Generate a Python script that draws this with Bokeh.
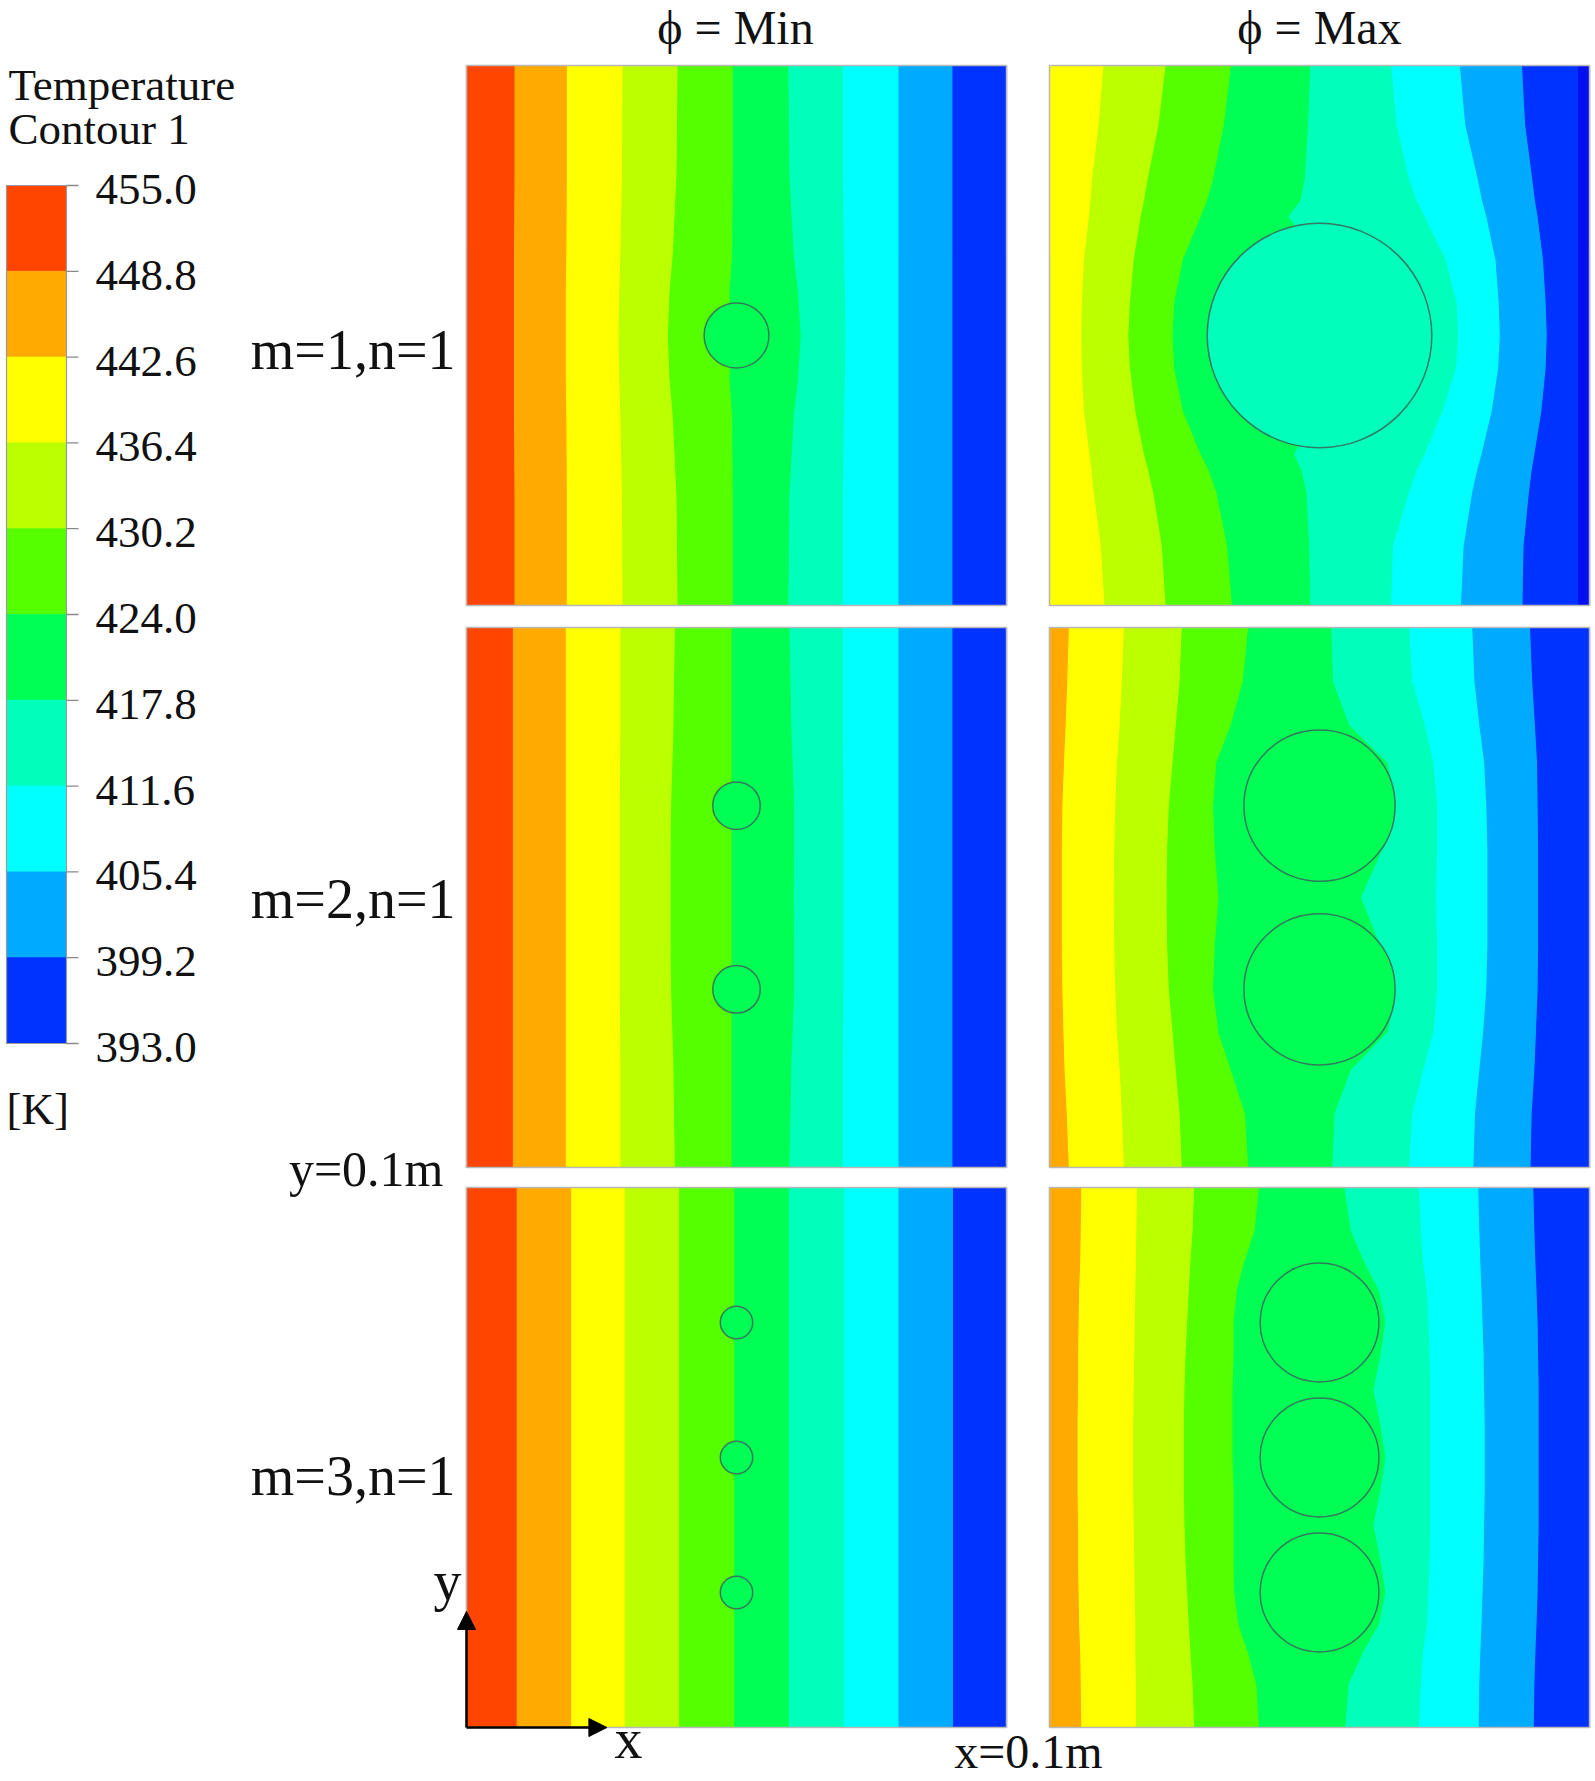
from bokeh.plotting import figure
from bokeh.models import Range1d, Arrow, NormalHead
from bokeh.core.properties import value
from bokeh.embed import file_html
from bokeh.resources import INLINE

# ---------------- data ----------------
LEVELS = [455.0, 448.8, 442.6, 436.4, 430.2, 424.0, 417.8, 411.6, 405.4, 399.2, 393.0]
BAND_COLORS = ["#FF4500", "#FFAA00", "#FFFF00", "#BBFF00", "#55FF00", "#00FF55",
               "#00FFBB", "#00FFFF", "#00AAFF", "#0033FF", "#0010EE"]
COL_TITLES = ["\u03d5 = Min", "\u03d5 = Max"]
ROW_LABELS = ["m=1,n=1", "m=2,n=1", "m=3,n=1"]

# contour band boundaries (x in mm, 0..100) sampled at heights Y (mm, 0..100)
MIN1_Y = [100, 80, 65, 58, 50, 42, 35, 20, 0]
MIN1_B = [
    [9.0, 9.0, 8.9, 8.9, 8.9, 8.9, 8.9, 9.0, 9.0],
    [18.7, 18.7, 18.6, 18.5, 18.5, 18.5, 18.6, 18.7, 18.7],
    [29.0, 28.9, 28.6, 28.4, 28.3, 28.4, 28.6, 28.9, 29.0],
    [39.2, 39.0, 38.3, 37.7, 37.4, 37.7, 38.3, 39.0, 39.2],
    [49.4, 49.4, 49.3, 48.8, 49.0, 48.8, 49.3, 49.4, 49.4],
    [59.7, 59.9, 60.7, 61.5, 62.0, 61.5, 60.7, 59.9, 59.7],
    [69.8, 69.8, 70.0, 70.2, 70.3, 70.2, 70.0, 69.8, 69.8],
    [80.1, 80.1, 80.1, 80.1, 80.1, 80.1, 80.1, 80.1, 80.1],
    [90.1, 90.1, 90.1, 90.1, 90.1, 90.1, 90.1, 90.1, 90.1],
    [100, 100, 100, 100, 100, 100, 100, 100, 100],
]
MIN1_CY = [50]
MIN1_R = 6.0

MIN2_Y = [100, 80, 67, 58, 50, 42, 33, 20, 0]
MIN2_B = [
    [8.7, 8.7, 8.7, 8.7, 8.7, 8.7, 8.7, 8.7, 8.7],
    [18.5, 18.5, 18.5, 18.5, 18.5, 18.5, 18.5, 18.5, 18.5],
    [28.6, 28.6, 28.5, 28.5, 28.5, 28.5, 28.5, 28.6, 28.6],
    [38.7, 38.4, 38.0, 37.9, 37.9, 37.9, 38.0, 38.4, 38.7],
    [49.2, 49.2, 49.2, 49.2, 49.2, 49.2, 49.2, 49.2, 49.2],
    [59.9, 60.3, 60.8, 60.8, 60.7, 60.8, 60.8, 60.3, 59.9],
    [69.8, 69.8, 69.9, 69.9, 69.9, 69.9, 69.9, 69.8, 69.8],
    [80.1, 80.1, 80.1, 80.1, 80.1, 80.1, 80.1, 80.1, 80.1],
    [90.1, 90.1, 90.1, 90.1, 90.1, 90.1, 90.1, 90.1, 90.1],
    [100, 100, 100, 100, 100, 100, 100, 100, 100],
]
MIN2_CY = [67, 33]
MIN2_R = 4.4

MIN3_Y = [100, 0]
MIN3_B = [
    [9.4, 9.4], [19.5, 19.5], [29.4, 29.4], [39.5, 39.5], [49.7, 49.7],
    [59.8, 59.8], [70.0, 70.0], [80.1, 80.1], [90.2, 90.2], [100, 100],
]
MIN3_CY = [75, 50, 25]
MIN3_R = 3.0

MAX1_Y = [100, 89, 79, 75, 72, 64, 56, 50, 44, 36, 28, 25, 21, 11, 0]
MAX1_B = [
    [0, 0, 0, 0, 0, 0, 0, 0, 0, 0, 0, 0, 0, 0, 0],
    [0, 0, 0, 0, 0, 0, 0, 0, 0, 0, 0, 0, 0, 0, 0],
    [10.1, 9.2, 8.0, 7.7, 7.4, 6.5, 6.1, 6.0, 6.1, 6.5, 7.5, 7.9, 8.3, 9.6, 10.3],
    [21.6, 20.3, 18.3, 17.6, 17.0, 15.7, 15.0, 14.7, 15.0, 16.0, 17.6, 18.4, 19.3, 20.9, 21.6],
    [33.7, 32.4, 30.4, 29.3, 28.1, 24.8, 23.2, 22.9, 23.2, 24.8, 28.1, 29.6, 31.0, 33.0, 33.9],
    [48.4, 48.0, 47.4, 46.6, 44.4, 50.0, 50.0, 50.0, 50.0, 50.0, 45.4, 46.8, 47.7, 48.2, 48.4],
    [63.4, 64.4, 66.7, 68.1, 69.6, 73.5, 75.5, 75.8, 75.4, 72.9, 69.6, 68.1, 66.7, 63.7, 63.4],
    [76.1, 77.1, 79.4, 80.2, 81.0, 82.7, 83.3, 83.5, 83.2, 82.0, 80.1, 79.3, 78.4, 76.8, 76.3],
    [87.6, 88.2, 89.5, 90.0, 90.5, 91.5, 92.0, 92.2, 92.0, 91.2, 89.9, 89.4, 88.9, 87.9, 87.7],
    [98.0, 98.0, 98.0, 98.0, 98.0, 98.0, 98.0, 98.0, 98.0, 98.0, 98.0, 98.0, 98.0, 98.0, 98.0],
]
MAX1_CY = [50]
MAX1_R = 20.8

MAX2_Y = [100, 90, 82, 75, 67, 59, 50, 41, 33, 25, 18, 10, 0]
MAX2_B = [
    [0, 0, 0, 0, 0, 0, 0, 0, 0, 0, 0, 0, 0],
    [3.7, 3.4, 3.1, 2.8, 2.5, 2.4, 2.4, 2.4, 2.5, 2.7, 2.9, 3.3, 3.7],
    [13.9, 13.5, 13.1, 12.6, 12.3, 12.1, 12.0, 12.1, 12.3, 12.6, 13.1, 13.5, 13.9],
    [24.6, 24.2, 23.5, 22.9, 22.2, 21.9, 21.8, 21.9, 22.2, 22.9, 23.5, 24.2, 24.6],
    [36.9, 35.9, 33.7, 31.0, 30.4, 30.7, 31.4, 30.7, 30.4, 31.4, 33.7, 36.3, 36.9],
    [52.3, 52.6, 55.6, 62.7, 64.2, 61.8, 57.8, 61.4, 64.2, 62.7, 55.9, 52.9, 52.5],
    [66.7, 67.3, 69.6, 71.2, 71.9, 71.9, 71.7, 71.9, 71.9, 71.2, 69.3, 67.3, 66.7],
    [78.4, 78.8, 79.7, 80.6, 81.0, 81.2, 81.2, 81.2, 81.0, 80.4, 79.7, 78.9, 78.6],
    [89.1, 89.5, 90.0, 90.4, 90.5, 90.6, 90.6, 90.6, 90.5, 90.2, 89.9, 89.4, 89.2],
    [100, 100, 100, 100, 100, 100, 100, 100, 100, 100, 100, 100, 100],
]
MAX2_CY = [67, 33]
MAX2_R = 14.0

MAX3_Y = [100, 92, 86, 81, 75, 69, 62.5, 56, 50, 44, 37.5, 31, 25, 19, 14, 8, 0]
MAX3_B = [
    [0, 0, 0, 0, 0, 0, 0, 0, 0, 0, 0, 0, 0, 0, 0, 0, 0],
    [6.0, 5.9, 5.8, 5.6, 5.5, 5.4, 5.4, 5.3, 5.3, 5.3, 5.4, 5.4, 5.5, 5.6, 5.8, 5.9, 6.0],
    [16.3, 16.2, 16.1, 16.0, 15.9, 15.8, 15.7, 15.6, 15.6, 15.6, 15.7, 15.8, 15.9, 16.0, 16.0, 16.1, 16.1],
    [26.9, 26.6, 26.2, 25.9, 25.6, 25.3, 25.1, 25.0, 25.0, 25.0, 25.1, 25.3, 25.6, 25.9, 26.2, 26.6, 26.9],
    [38.9, 38.1, 36.1, 34.8, 34.2, 34.2, 34.0, 34.0, 34.0, 34.2, 34.2, 34.2, 34.3, 35.1, 36.8, 38.4, 38.9],
    [54.7, 55.9, 58.5, 61.1, 62.3, 61.4, 60.1, 61.4, 62.3, 61.4, 60.1, 61.4, 62.3, 61.1, 58.2, 55.5, 54.9],
    [68.5, 68.9, 69.3, 70.0, 70.3, 70.5, 70.6, 70.6, 70.6, 70.6, 70.6, 70.5, 70.3, 70.0, 69.3, 68.9, 68.5],
    [79.5, 79.7, 79.9, 80.1, 80.3, 80.5, 80.6, 80.7, 80.7, 80.7, 80.6, 80.5, 80.3, 80.1, 79.9, 79.7, 79.6],
    [89.7, 89.9, 90.1, 90.3, 90.5, 90.6, 90.7, 90.7, 90.7, 90.7, 90.7, 90.6, 90.5, 90.3, 90.1, 89.9, 89.8],
    [100, 100, 100, 100, 100, 100, 100, 100, 100, 100, 100, 100, 100, 100, 100, 100, 100],
]
MAX3_CY = [75, 50, 25]
MAX3_R = 11.0

# ---------------- layout ----------------
OX, OY = 0, 0
W, H = 1593, 1781
SIZE_PX = 540.0           # panel size in px for 100 mm
COL_X0 = [466, 1049]
ROW_Y0 = [65, 627, 1187]
FONT = value("Liberation Serif")
TXT = "#111111"

p = figure(width=W, height=H, x_range=Range1d(OX, OX + W), y_range=Range1d(OY + H, OY),
           output_backend="svg", toolbar_location=None, min_border=0,
           x_axis_location=None, y_axis_location=None, outline_line_color=None,
           background_fill_color="white", border_fill_color="white")
p.grid.visible = False

panels = [
    ("min1", 0, 0, MIN1_Y, MIN1_B, MIN1_CY, MIN1_R, BAND_COLORS[5]),
    ("max1", 1, 0, MAX1_Y, MAX1_B, MAX1_CY, MAX1_R, BAND_COLORS[6]),
    ("min2", 0, 1, MIN2_Y, MIN2_B, MIN2_CY, MIN2_R, BAND_COLORS[5]),
    ("max2", 1, 1, MAX2_Y, MAX2_B, MAX2_CY, MAX2_R, BAND_COLORS[5]),
    ("min3", 0, 2, MIN3_Y, MIN3_B, MIN3_CY, MIN3_R, BAND_COLORS[5]),
    ("max3", 1, 2, MAX3_Y, MAX3_B, MAX3_CY, MAX3_R, BAND_COLORS[5]),
]

k = 100.0 / SIZE_PX
for name, c, r, Y, B, CY, R, ccol in panels:
    x0 = COL_X0[c]
    y0 = ROW_Y0[r]
    xs0 = -(x0 - OX) * k
    p.extra_x_ranges[name] = Range1d(xs0, xs0 + W * k)
    ys0 = -((OY + H) - (y0 + SIZE_PX)) * k
    p.extra_y_ranges[name] = Range1d(ys0, ys0 + H * k)

    n = len(Y)
    bounds = [[0.0] * n] + [list(b) for b in B] + [[100.0] * n]
    xs, ys, cols = [], [], []
    for i in range(len(bounds) - 1):
        left, right = bounds[i], bounds[i + 1]
        if all(abs(a - b) < 1e-9 for a, b in zip(left, right)):
            continue
        xs.append(left + right[::-1])
        ys.append(list(Y) + list(Y)[::-1])
        cols.append(BAND_COLORS[i])
    p.patches(xs, ys, fill_color=cols, line_color=cols, line_width=1.2,
              x_range_name=name, y_range_name=name)
    p.circle(x=[50.0] * len(CY), y=CY, radius=R, fill_color=ccol,
             line_color="#3A6A5C", line_width=1.5, line_alpha=0.9,
             x_range_name=name, y_range_name=name)
    p.quad(left=[0], right=[100], bottom=[0], top=[100], fill_color=None,
           line_color="#B8B8B8", line_width=1.5, x_range_name=name, y_range_name=name)

# axes arrows on the lower-left panel (its own mm scale)
for (xe, ye) in [(0.0, 21.5), (26.0, 0.0)]:
    p.add_layout(Arrow(end=NormalHead(size=18, fill_color="black", line_color="black"),
                       x_start=0.0, y_start=0.0, x_end=xe, y_end=ye,
                       line_width=2.5, line_color="black",
                       x_range_name="min3", y_range_name="min3"))

# ---------------- colour bar ----------------
CB_TOP, CB_BOT = 185.0, 1043.0
kt = (LEVELS[0] - LEVELS[-1]) / (CB_BOT - CB_TOP)
t_bottom = LEVELS[-1] - ((OY + H) - CB_BOT) * kt
p.extra_y_ranges["temp"] = Range1d(t_bottom, t_bottom + H * kt)
p.quad(left=6, right=66, top=LEVELS[:-1], bottom=LEVELS[1:], fill_color=BAND_COLORS[:10],
       line_color=BAND_COLORS[:10], line_width=0.8, y_range_name="temp")
p.quad(left=[6], right=[66], top=[LEVELS[0]], bottom=[LEVELS[-1]], fill_color=None,
       line_color="#9A9A9A", line_width=1.2, y_range_name="temp")
p.segment(x0=[66] * len(LEVELS), x1=[78] * len(LEVELS), y0=LEVELS, y1=LEVELS,
          line_color="#8A8A8A", line_width=1.3, y_range_name="temp")
p.text(x=[95] * len(LEVELS), y=LEVELS, text=[f"{v:.1f}" for v in LEVELS],
       y_range_name="temp", text_baseline="middle", text_align="left", y_offset=4,
       text_font=FONT, text_font_size="45px", text_color=TXT)

# text placed by its baseline (compensating the renderer's baseline offset)
def label(xs, ys, texts, size, align="left"):
    shift = 0.35 * size
    p.text(x=xs, y=[v - shift for v in ys], text=texts, text_align=align,
           text_baseline="alphabetic", text_font=FONT, text_font_size=f"{size}px",
           text_color=TXT)

label([8, 8], [100, 144], ["Temperature", "Contour 1"], 45)
label([6], [1124], ["[K]"], 45)

# ---------------- labels ----------------
label([735, 1319], [44, 44], COL_TITLES, 48, "center")
label([455, 455, 455], [369, 918, 1495], ROW_LABELS, 56, "right")
label([443], [1186], ["y=0.1m"], 50, "right")
label([1028], [1768], ["x=0.1m"], 48, "center")
label([447, 628], [1600, 1758], ["y", "x"], 56, "center")

open("out.html", "w").write(file_html(p, INLINE))
